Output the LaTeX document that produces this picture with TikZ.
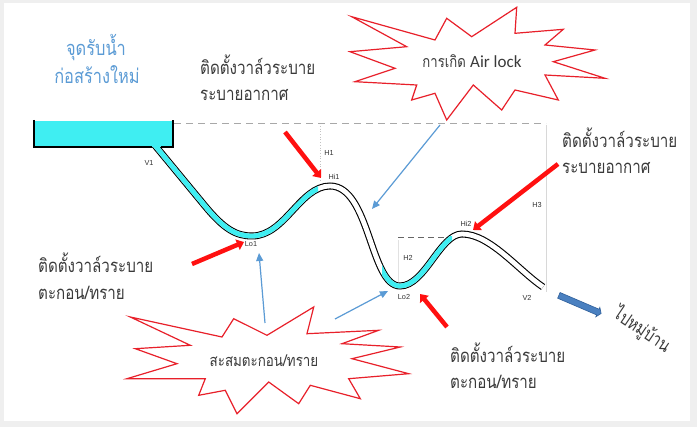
\documentclass[tikz,border=0pt]{standalone}
\usepackage{fontspec}
\newfontfamily\thai[Script=Thai,FakeStretch=0.82]{Loma}
\newfontfamily\labelfont{Liberation Sans}
\newfontfamily\latinfont{Carlito}
\usetikzlibrary{arrows.meta,shapes.arrows}

\definecolor{bggray}{HTML}{EFEFEF}
\definecolor{water}{HTML}{3FEEF2}
\definecolor{alarm}{HTML}{FF1010}
\definecolor{burst}{HTML}{E8202A}
\definecolor{note}{HTML}{5B9BD5}
\definecolor{flow}{HTML}{4A80C0}
\definecolor{flowedge}{HTML}{2F5F9A}
\definecolor{ink}{HTML}{3A3A3A}
\definecolor{guide}{HTML}{A8A8A8}

\tikzset{
  thaitext/.style={anchor=base west,inner sep=0pt,text=ink,font=\thai\fontsize{18.5}{20}\selectfont},
  titletext/.style={anchor=base,inner sep=0pt,text=note,font=\thai\fontsize{20}{22}\selectfont},
  tag/.style={inner sep=0pt,text=black!80,font=\labelfont\fontsize{7.3}{8}\selectfont},
  valvearrow/.style={alarm,line width=4.5pt,-{Triangle[length=7pt,width=11pt]}},
  hintarrow/.style={note,line width=1.2pt,-{Triangle[length=8pt,width=7pt]}},
  burstline/.style={burst,line width=1.2pt,fill=white,line join=miter},
  levelline/.style={guide,line width=0.9pt,dash pattern=on 7pt off 5pt},
}

\begin{document}
\begin{tikzpicture}[x=1pt,y=-1pt]
  % page and frame
  \fill[bggray] (0,0) rectangle (697,427);
  \fill[white] (4,3) rectangle (690,421);
  \useasboundingbox (0,0) rectangle (697,427);

  % pipeline centre line
  \def\pipepath{(153,143) -- (205,206) .. controls (224,229) and (236,236) .. (252,236)
    .. controls (285,236) and (300,186) .. (330,186)
    .. controls (370,186) and (370,286) .. (400,286)
    .. controls (425,286) and (440,234) .. (462,234)
    .. controls (490,234) and (518,270) .. (543,287)}

  % reference levels
  \draw[levelline] (174,123) -- (546,123);
  \draw[guide!70,line width=0.7pt,dotted] (320,126) -- (320,181);
  \draw[guide!45,line width=0.6pt] (546,125) -- (546,292);
  \draw[black!60,line width=0.8pt,dash pattern=on 6pt off 4pt] (398,237) -- (450,237);
  \draw[guide!35,line width=0.5pt] (398,240) -- (398,282);

  % pipe: black walls, white bore, water-filled stretches
  \draw[black,line width=7pt] \pipepath;
  \draw[white,line width=4.8pt] \pipepath;
  \begin{scope}
    \clip (140,130) rectangle (318,260);
    \draw[water,line width=4.8pt] \pipepath;
  \end{scope}
  \begin{scope}
    \clip (382,237) rectangle (452,300);
    \draw[water,line width=4.8pt] \pipepath;
  \end{scope}

  % intake tank
  \fill[water] (34,121) rectangle (173,147);
  \draw[black,line width=1.6pt] (34,120) -- (34,147) -- (151.5,147)
        (161,147) -- (173,147) -- (173,120);

  % point labels
  \node[tag] (v1) at (149,163) {V1};
  \node[tag] (h1) at (329,153) {H1};
  \node[tag] (hi1) at (334,177) {Hi1};
  \node[tag] (lo1) at (251,244) {Lo1};
  \node[tag] (h2) at (408,258) {H2};
  \node[tag] (lo2) at (404,297) {Lo2};
  \node[tag] (hi2) at (466,224) {Hi2};
  \node[tag] (h3) at (537,205) {H3};
  \node[tag] (v2) at (527,298) {V2};

  % titles and notes
  \node[titletext] (intake1) at (96,56) {จุดรับน้ำ};
  \node[titletext] (intake2) at (97,84) {ก่อสร้างใหม่};

  \node[thaitext] (airA) at (200,75) {ติดตั้งวาล์วระบาย};
  \node[thaitext] (airB) at (200,101) {ระบายอากาศ};
  \node[thaitext] (airC) at (562,148) {ติดตั้งวาล์วระบาย};
  \node[thaitext] (airD) at (562,174) {ระบายอากาศ};
  \node[thaitext] (sedA) at (38,273) {ติดตั้งวาล์วระบาย};
  \node[thaitext] (sedB) at (38,300) {ตะกอน/ทราย};
  \node[thaitext] (sedC) at (450,363) {ติดตั้งวาล์วระบาย};
  \node[thaitext] (sedD) at (450,389) {ตะกอน/ทราย};

  % air lock burst
  \draw[burstline] (351.7,16.7) -- (435,40) -- (446.7,18.3) -- (471.7,36.7)
    -- (516.7,7.3) -- (515,33.3) -- (563.3,29.3) -- (545,45) -- (595,50)
    -- (553.3,61.7) -- (605,78.3) -- (545,75) -- (558.3,100) -- (515,90)
    -- (501.7,110) -- (473.3,85) -- (446.7,120) -- (435,93.3) -- (411.7,100)
    -- (416.7,85) -- (355,81.7) -- (395,68.3) -- (350,51.7) -- (406.7,46.7) -- cycle;
  \node[anchor=base,inner sep=0pt,text=ink] (airlock) at (472,68)
    {\thai\fontsize{16}{18}\selectfont การเกิด \latinfont\fontsize{17}{18}\selectfont Air lock};

  % sediment burst
  \draw[burstline] (130.3,317) -- (222,337) -- (233.7,318.7) -- (267,335.3)
    -- (313.7,307) -- (307,333.7) -- (378.7,330.3) -- (342,343.7) -- (400.3,347)
    -- (352,358.7) -- (408.7,373.7) -- (348.7,378.7) -- (360.3,398.7)
    -- (310.3,385.3) -- (298.7,403.7) -- (268.7,382) -- (237,413.7)
    -- (225.3,390.3) -- (198.7,395.3) -- (205.3,378.7) -- (127,378.7)
    -- (177,363.7) -- (135.3,348.7) -- (190.3,345.3) -- cycle;
  \node[anchor=base,inner sep=0pt,text=ink,font=\thai\fontsize{16.3}{18}\selectfont]
    (sediment) at (264,367) {สะสมตะกอน/ทราย};

  % valve arrows
  \coordinate (r1s) at (285,132);  \coordinate (r1e) at (321,178);
  \coordinate (r2s) at (192,264);  \coordinate (r2e) at (244,242);
  \coordinate (r3s) at (558,164);  \coordinate (r3e) at (473,230);
  \coordinate (r4s) at (447,327);  \coordinate (r4e) at (420,294);
  \draw[valvearrow] (r1s) -- (r1e);
  \draw[valvearrow] (r2s) -- (r2e);
  \draw[valvearrow] (r3s) -- (r3e);
  \draw[valvearrow] (r4s) -- (r4e);

  % pointers from the bursts
  \coordinate (b1s) at (440,125);  \coordinate (b1e) at (372,209);
  \coordinate (b2s) at (265,323);  \coordinate (b2e) at (259,253);
  \coordinate (b3s) at (335,319);  \coordinate (b3e) at (388,291);
  \draw[hintarrow] (b1s) -- (b1e);
  \draw[hintarrow] (b2s) -- (b2e);
  \draw[hintarrow] (b3s) -- (b3e);

  % outflow to the village
  \node[single arrow,draw=flowedge,fill=flow,line width=0.6pt,
        minimum height=46pt,minimum width=10pt,inner sep=2.8pt,
        single arrow head extend=2pt,single arrow tip angle=110,
        rotate=-23.2] (outflow) at (579,304) {};
  \node[rotate=-34,inner sep=0pt,text=ink,font=\thai\fontsize{18}{20}\selectfont]
    (village) at (642,330) {ไปหมู่บ้าน};
\end{tikzpicture}
\end{document}
